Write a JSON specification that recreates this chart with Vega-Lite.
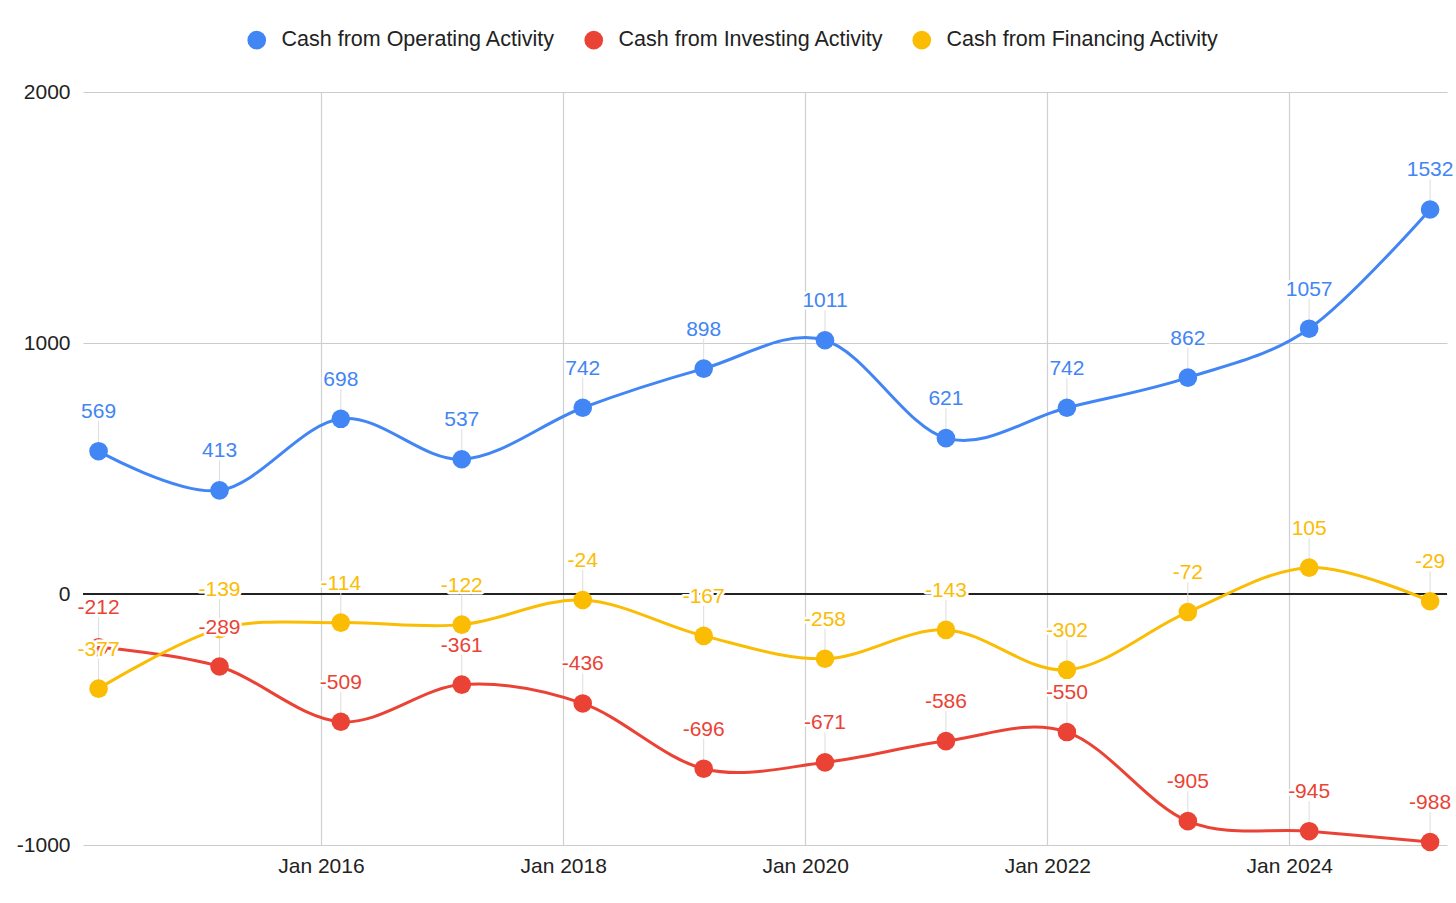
{
  "$schema": "https://vega.github.io/schema/vega-lite/v6.json",
  "autosize": {"type": "none"},
  "width": 1364,
  "height": 753,
  "padding": {"left": 83, "top": 92, "right": 9, "bottom": 58},
  "background": "white",
  "config": {
    "font": "Liberation Sans",
    "view": {"stroke": null},
    "axis": {"labelFontSize": 21, "labelColor": "#222", "labelFont": "Liberation Sans", "gridColor": "#cccccc", "gridWidth": 1.2, "domain": false, "ticks": false, "title": null},
    "legend": {"orient": "none"}
  },
  "data": {
    "values": [
      {"date": "2014-03-01", "series": "Cash from Operating Activity", "value": 569},
      {"date": "2015-03-01", "series": "Cash from Operating Activity", "value": 413},
      {"date": "2016-03-01", "series": "Cash from Operating Activity", "value": 698},
      {"date": "2017-03-01", "series": "Cash from Operating Activity", "value": 537},
      {"date": "2018-03-01", "series": "Cash from Operating Activity", "value": 742},
      {"date": "2019-03-01", "series": "Cash from Operating Activity", "value": 898},
      {"date": "2020-03-01", "series": "Cash from Operating Activity", "value": 1011},
      {"date": "2021-03-01", "series": "Cash from Operating Activity", "value": 621},
      {"date": "2022-03-01", "series": "Cash from Operating Activity", "value": 742},
      {"date": "2023-03-01", "series": "Cash from Operating Activity", "value": 862},
      {"date": "2024-03-01", "series": "Cash from Operating Activity", "value": 1057},
      {"date": "2025-03-01", "series": "Cash from Operating Activity", "value": 1532},
      {"date": "2014-03-01", "series": "Cash from Investing Activity", "value": -212},
      {"date": "2015-03-01", "series": "Cash from Investing Activity", "value": -289},
      {"date": "2016-03-01", "series": "Cash from Investing Activity", "value": -509},
      {"date": "2017-03-01", "series": "Cash from Investing Activity", "value": -361},
      {"date": "2018-03-01", "series": "Cash from Investing Activity", "value": -436},
      {"date": "2019-03-01", "series": "Cash from Investing Activity", "value": -696},
      {"date": "2020-03-01", "series": "Cash from Investing Activity", "value": -671},
      {"date": "2021-03-01", "series": "Cash from Investing Activity", "value": -586},
      {"date": "2022-03-01", "series": "Cash from Investing Activity", "value": -550},
      {"date": "2023-03-01", "series": "Cash from Investing Activity", "value": -905},
      {"date": "2024-03-01", "series": "Cash from Investing Activity", "value": -945},
      {"date": "2025-03-01", "series": "Cash from Investing Activity", "value": -988},
      {"date": "2014-03-01", "series": "Cash from Financing Activity", "value": -377},
      {"date": "2015-03-01", "series": "Cash from Financing Activity", "value": -139},
      {"date": "2016-03-01", "series": "Cash from Financing Activity", "value": -114},
      {"date": "2017-03-01", "series": "Cash from Financing Activity", "value": -122},
      {"date": "2018-03-01", "series": "Cash from Financing Activity", "value": -24},
      {"date": "2019-03-01", "series": "Cash from Financing Activity", "value": -167},
      {"date": "2020-03-01", "series": "Cash from Financing Activity", "value": -258},
      {"date": "2021-03-01", "series": "Cash from Financing Activity", "value": -143},
      {"date": "2022-03-01", "series": "Cash from Financing Activity", "value": -302},
      {"date": "2023-03-01", "series": "Cash from Financing Activity", "value": -72},
      {"date": "2024-03-01", "series": "Cash from Financing Activity", "value": 105},
      {"date": "2025-03-01", "series": "Cash from Financing Activity", "value": -29}
    ]
  },
  "encoding": {
    "x": {
      "field": "date",
      "type": "temporal",
      "scale": {"type": "utc", "domain": [{"year": 2014, "month": 1, "date": 13, "utc": true}, {"year": 2025, "month": 4, "date": 21, "utc": true}]},
      "axis": {
        "values": [
          {"year": 2016, "month": 1, "date": 1, "utc": true},
          {"year": 2018, "month": 1, "date": 1, "utc": true},
          {"year": 2020, "month": 1, "date": 1, "utc": true},
          {"year": 2022, "month": 1, "date": 1, "utc": true},
          {"year": 2024, "month": 1, "date": 1, "utc": true}
        ],
        "labelExpr": "utcFormat(datum.value, '%b %Y')",
        "labelPadding": 10,
        "gridColor": "#d0d0d0"
      }
    },
    "y": {
      "field": "value",
      "type": "quantitative",
      "scale": {"domain": [-1000, 2000], "nice": false, "zero": false},
      "axis": {"values": [-1000, 0, 1000, 2000], "labelExpr": "toString(datum.value)", "labelPadding": 13}
    },
    "color": {
      "field": "series",
      "type": "nominal",
      "scale": {
        "domain": ["Cash from Operating Activity", "Cash from Investing Activity", "Cash from Financing Activity"],
        "range": ["#4285F4", "#EA4335", "#FBBC04"]
      },
      "legend": {
        "orient": "none",
        "legendX": 163,
        "legendY": -63,
        "padding": 0,
        "direction": "horizontal",
        "title": null,
        "symbolType": "circle",
        "symbolSize": 346,
        "symbolStrokeWidth": 0,
        "symbolOpacity": 1,
        "labelFontSize": 21.5,
        "labelColor": "#222",
        "labelFont": "Liberation Sans",
        "labelOffset": 14,
        "columnPadding": 27,
        "labelLimit": 400
      }
    }
  },
  "layer": [
    {
      "mark": {"type": "rule", "strokeWidth": 1.2},
      "encoding": {"y": {"datum": 0}, "x": {"value": 0}, "x2": {"value": 1364}, "color": {"value": "#222"}}
    },
    {
      "mark": {"type": "rule", "strokeWidth": 1, "yOffset": -8, "y2Offset": -30},
      "encoding": {"y2": {"field": "value"}, "color": {"value": "#dddddd"}}
    },
    {
      "mark": {"type": "line", "interpolate": "cardinal", "strokeWidth": 3}
    },
    {
      "mark": {"type": "point", "filled": true, "opacity": 1, "size": 346, "shape": "circle"}
    },
    {
      "mark": {"type": "text", "dy": -39, "fontSize": 21, "baseline": "middle", "align": "center", "stroke": "white", "strokeWidth": 5, "strokeJoin": "round"},
      "encoding": {"text": {"field": "value", "type": "nominal"}, "color": {"value": "white"}}
    },
    {
      "mark": {"type": "text", "dy": -39, "fontSize": 21, "baseline": "middle", "align": "center"},
      "encoding": {"text": {"field": "value", "type": "nominal"}}
    }
  ]
}
